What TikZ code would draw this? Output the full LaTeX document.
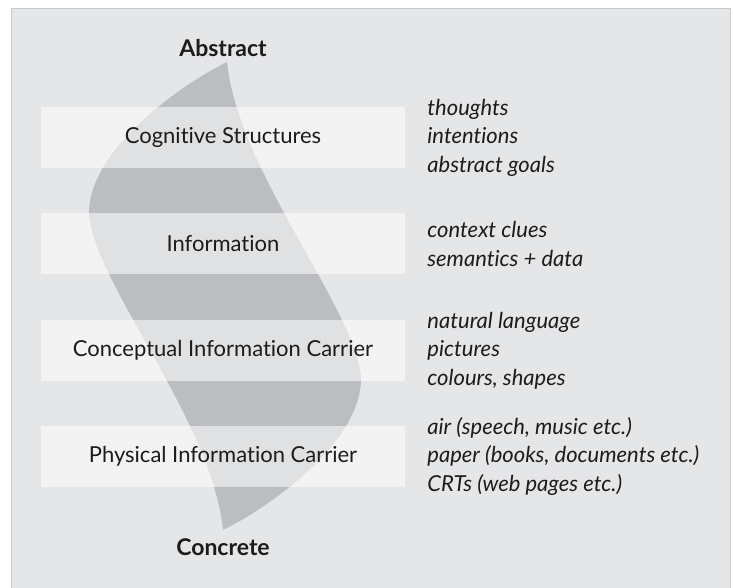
\documentclass[tikz,border=0pt]{standalone}
\usepackage{fontspec}
\setmainfont{Lato}[Ligatures=NoCommon]
\usetikzlibrary{positioning}
\definecolor{panelgray}{HTML}{E5E6E8}
\definecolor{bandgray}{HTML}{BCBDC0}
\definecolor{edgegray}{HTML}{C9CACC}
\definecolor{inkgray}{HTML}{1E1B1C}
\begin{document}
\begin{tikzpicture}
[x=1pt, y=1pt,
every node/.style={text=inkgray, font=\fontsize{22}{26}\selectfont},
layer/.style={rectangle, fill=white, fill opacity=0.55, text opacity=1, minimum width=364pt, minimum height=61pt, inner sep=0pt},
pole/.style={font=\fontsize{23}{26}\selectfont\bfseries},
examples/.style={align=left, inner sep=0pt, font=\fontsize{22}{28.5}\selectfont\itshape}]
\useasboundingbox (0,0) rectangle (733,588);
\draw[edgegray, fill=panelgray] (11,-1) rectangle (730,580);
% the band from abstract down to concrete
\fill[bandgray] (227,526) .. controls (180,503) and (89,438) .. (89,375)
  .. controls (92,308) and (212,168) .. (223,58)
  .. controls (270,81) and (361,146) .. (361,209)
  .. controls (358,276) and (238,416) .. (227,526) -- cycle;
\node[pole] (abstract) at (223,540) {Abstract};
\node[pole] (concrete) at (223,41) {Concrete};
\node[layer] (cog) at (223,450.5) {Cognitive Structures};
\node[layer, below=45pt of cog] (info) {Information};
\node[layer, below=45pt of info] (concept) {Conceptual Information Carrier};
\node[layer, below=44.5pt of concept] (phys) {Physical Information Carrier};
\node[examples, right=22pt of cog] (cogex) {thoughts\\intentions\\abstract goals};
\node[examples, right=22pt of info] (infoex) {context clues\\semantics + data};
\node[examples, right=22pt of concept] (conceptex) {natural language\\pictures\\colours, shapes};
\node[examples, right=22pt of phys] (physex) {air (speech, music etc.)\\paper (books, documents etc.)\\CRTs (web pages etc.)};
\end{tikzpicture}
\end{document}
